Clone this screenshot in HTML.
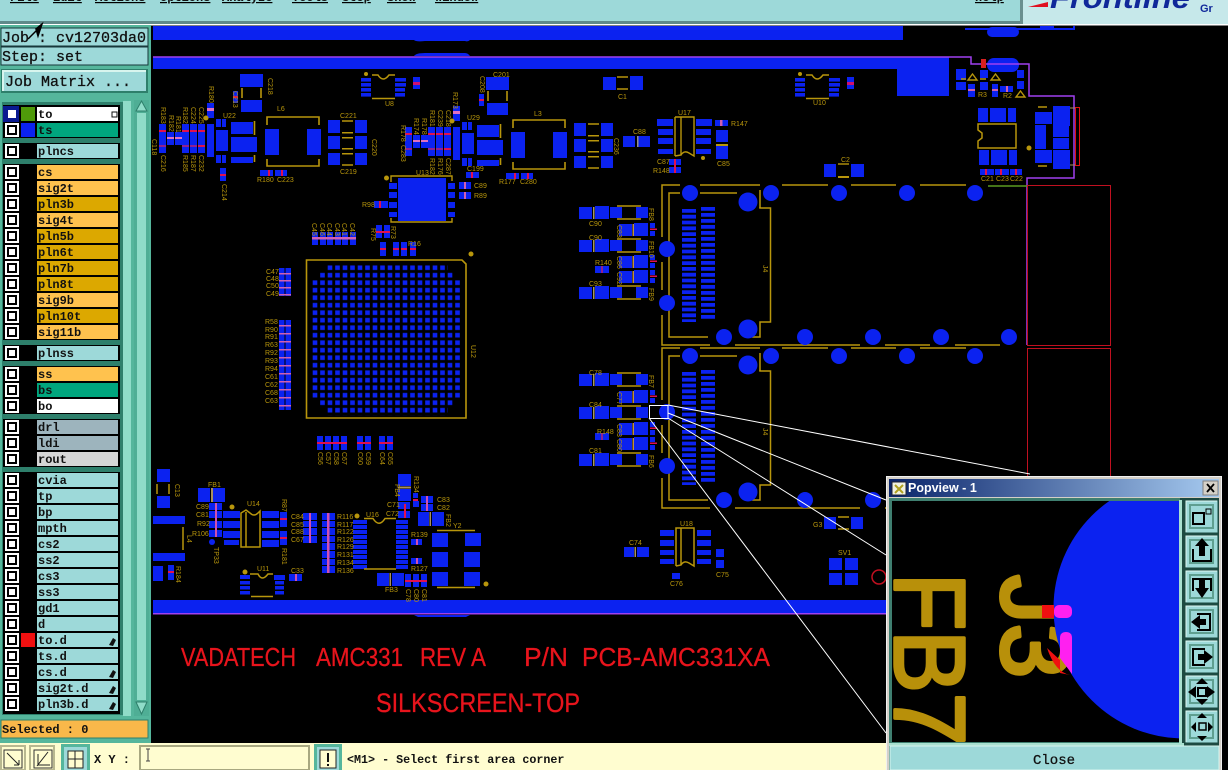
<!DOCTYPE html>
<html><head><meta charset="utf-8"><title>Popview</title>
<style>
html,body{margin:0;padding:0;background:#000;width:1228px;height:770px;overflow:hidden}
svg{display:block;position:absolute;left:0;top:0}
.m{font-family:"Liberation Mono","DejaVu Sans Mono",monospace;font-weight:bold;fill:#111}
.n{font-family:"Liberation Mono","DejaVu Sans Mono",monospace;font-weight:normal;fill:#111;stroke:#111;stroke-width:.3px}
.l{font-family:"Liberation Mono",monospace;font-weight:bold;font-size:12px;fill:#111}
.s{font-family:"Liberation Sans",sans-serif;font-size:7px;fill:#b8960c}
.r{font-family:"Liberation Sans",sans-serif;fill:#e8141c;stroke:#e8141c;stroke-width:.3px}
</style></head><body>
<svg width="1228" height="770" viewBox="0 0 1228 770" xmlns="http://www.w3.org/2000/svg">
<defs>
<g id="cb"><rect x="5" y="-7" width="14" height="14" fill="#fff"/><rect x="7" y="-5" width="10" height="10" fill="#000"/><rect x="9" y="-3" width="6" height="6" fill="#fff"/></g>
<pattern id="bga" x="312.5" y="265.2" width="7.5" height="7.5" patternUnits="userSpaceOnUse"><rect x="0.2" y="0.2" width="4.6" height="4.6" fill="#0b22f0"/></pattern>
<g id="reg">
 <g fill="#0b22f0">
 <rect x="159" y="124" width="7" height="29"/><rect x="167" y="132" width="7" height="13"/><rect x="175" y="132" width="7" height="13"/>
 <rect x="182" y="124" width="7" height="29"/><rect x="190" y="124" width="7" height="29"/><rect x="198" y="124" width="7" height="29"/>
 <rect x="207" y="103" width="7" height="15"/><rect x="207" y="124" width="7" height="33"/>
 <rect x="216" y="119" width="5" height="8"/><rect x="222" y="119" width="4" height="8"/><rect x="216" y="130" width="12" height="21"/><rect x="216" y="155" width="5" height="8"/><rect x="222" y="155" width="4" height="8"/>
 <rect x="231" y="122" width="22" height="12"/><rect x="231" y="137" width="26" height="15"/><rect x="231" y="157" width="22" height="6"/>
 <rect x="240" y="74" width="23" height="13"/><rect x="241" y="100" width="21" height="12"/><rect x="233" y="91" width="5" height="12"/>
 <rect x="265" y="129" width="14" height="26"/><rect x="307" y="129" width="14" height="26"/>
 <rect x="328" y="120" width="12" height="13"/><rect x="355" y="120" width="12" height="13"/><rect x="328" y="136" width="12" height="13"/><rect x="355" y="136" width="12" height="13"/><rect x="328" y="153" width="12" height="12"/><rect x="355" y="153" width="12" height="12"/>
 <rect x="260" y="170" width="13" height="6"/><rect x="275" y="170" width="12" height="6"/>
 </g>
 <g fill="#e01050"><rect x="159" y="130" width="7" height="2"/><rect x="182" y="130" width="7" height="2"/><rect x="190" y="130" width="7" height="2"/><rect x="198" y="130" width="7" height="2"/><rect x="233" y="96" width="5" height="2"/><rect x="268" y="170" width="2" height="6"/><rect x="281" y="170" width="2" height="6"/></g>
 <g fill="#e070c0"><rect x="167" y="137" width="7" height="2"/><rect x="175" y="137" width="7" height="2"/><rect x="207" y="108" width="7" height="3"/></g>
 <g fill="#902090"><rect x="159" y="145" width="7" height="2"/><rect x="182" y="145" width="7" height="2"/><rect x="190" y="145" width="7" height="2"/></g>
 <rect x="198" y="145" width="7" height="2" fill="#e01050"/>
 <g fill="none" stroke="#b8960c" stroke-width="1.6">
 <path d="M267 125V117H319V125M267 159V166H319V159"/><path d="M242 88V98M261 88V98"/><path d="M254.500 121V135M254.500 155V162"/>
 <path d="M342 121H353M342 165H353"/></g>
 <g fill="#b8960c"><rect x="342" y="132" width="11" height="1.500"/><rect x="342" y="137" width="11" height="1.500"/><rect x="342" y="148" width="11" height="1.500"/><rect x="342" y="153" width="11" height="1.500"/></g>
 <circle cx="206" cy="118" r="2.500" fill="#b8960c"/>
</g>
<g id="u8">
 <g fill="#0b22f0"><rect x="361" y="78" width="10" height="3.600"/><rect x="361" y="83" width="10" height="3.600"/><rect x="361" y="88" width="10" height="3.600"/><rect x="361" y="93" width="10" height="3.600"/><rect x="395" y="78" width="11" height="3.600"/><rect x="395" y="83" width="11" height="3.600"/><rect x="395" y="88" width="10" height="3.600"/><rect x="395" y="93" width="10" height="3.600"/><rect x="413" y="77" width="7" height="12"/></g>
 <rect x="413" y="82" width="7" height="3" fill="#d01070"/>
 <circle cx="366" cy="74" r="2" fill="#b8960c"/>
 <path d="M372 75H378Q383 83 389 75H395M372 98.500H395" fill="none" stroke="#b8960c" stroke-width="1.500"/>
</g>
<g id="j4">
 <g fill="none" stroke="#b8960c" stroke-width="1.500">
 <path d="M669 205V193H680M700 193H737M760 207V208H770.500V322H760V337H752M669 193V337H708M662 237V185H680M700 185H760M782 185H828M851 185H896M920 185H966"/>
 <path d="M662 262V290M662 315V345H710M735 345H860M885 345H930M955 345H1000"/>
 <path d="M760 190V208"/>
 </g>
 <g fill="#0b22f0">
 <circle cx="690" cy="193" r="8"/><circle cx="771" cy="193" r="8"/><circle cx="839" cy="193" r="8"/><circle cx="907" cy="193" r="8"/><circle cx="975" cy="193" r="8"/><circle cx="748" cy="202" r="9.500"/>
 <circle cx="667" cy="249" r="8"/><circle cx="667" cy="303" r="8"/><circle cx="724" cy="337" r="8"/><circle cx="748" cy="329" r="9.500"/><circle cx="805" cy="337" r="8"/><circle cx="873" cy="337" r="8"/><circle cx="941" cy="337" r="8"/><circle cx="1009" cy="337" r="8"/>
 </g>
 <path d="M689 209V322" stroke="#0b22f0" stroke-width="14" stroke-dasharray="3.800 2"/>
 <path d="M708 207V320" stroke="#0b22f0" stroke-width="14" stroke-dasharray="3.800 2.200"/>
 <text class="s" transform="translate(763,265) rotate(90)">J4</text>
</g>
<g id="r1">
 <g fill="#0b22f0"><rect x="579" y="0" width="13" height="12"/><rect x="595" y="-1" width="14" height="13"/><rect x="610" y="0" width="12" height="11"/><rect x="636" y="0" width="12" height="11"/></g>
 <rect x="593" y="0" width="1.500" height="12" fill="#a89a60"/>
 <path d="M617 -1H641M617 12H641" stroke="#b8960c" stroke-width="1.500"/>
</g>
<g id="r2">
 <g fill="#0b22f0"><rect x="619" y="0" width="13" height="12"/><rect x="634" y="-1" width="14" height="13"/><rect x="650" y="-1" width="5" height="5"/><rect x="650" y="7" width="5" height="5"/></g>
 <rect x="632.500" y="0" width="1.500" height="12" fill="#c09040"/>
 <rect x="650" y="4.500" width="7" height="1.500" fill="#e01050"/>
</g>
<g id="pass">
 <use href="#r1" y="207"/><use href="#r2" y="224"/><use href="#r1" y="240"/><use href="#r2" y="256"/><use href="#r2" y="271"/><use href="#r1" y="287"/>
 <rect x="595" y="266" width="14" height="7" fill="#0b22f0"/><rect x="601" y="266" width="2" height="7" fill="#902090"/>
</g>
<linearGradient id="tb" x1="0" x2="1" y1="0" y2="0"><stop offset="0" stop-color="#0a246a"/><stop offset="1" stop-color="#a6caf0"/></linearGradient>
</defs>

<rect width="1228" height="770" fill="#000"/>

<!-- top bar -->
<rect width="1228" height="22" fill="#9dd9d9"/>
<rect y="21" width="1022" height="3" fill="#5f8a8a"/>
<rect y="24" width="1228" height="1.500" fill="#fff"/>
<rect x="1020" y="0" width="3" height="24" fill="#6a8f8f"/>
<rect x="1023" y="0" width="205" height="24" fill="#c6e8ea"/>
<g style="text-decoration:underline">
<text class="m" font-size="12" x="10" y="1">File</text><text class="m" font-size="12" x="53" y="1">Edit</text><text class="m" font-size="12" x="95" y="1">Actions</text><text class="m" font-size="12" x="160" y="1">Options</text><text class="m" font-size="12" x="222" y="1">Analyze</text><text class="m" font-size="12" x="292" y="1">Tools</text><text class="m" font-size="12" x="342" y="1">Step</text><text class="m" font-size="12" x="387" y="1">Show</text><text class="m" font-size="12" x="435" y="1">Window</text><text class="m" font-size="12" x="975" y="1">Help</text>
</g>
<text x="1050" y="8" font-family="Liberation Sans,sans-serif" font-weight="bold" font-style="italic" font-size="30" fill="#10289a" textLength="140" lengthAdjust="spacingAndGlyphs">Frontline</text>
<path d="M1028 7L1048 2V7Z" fill="#e01020"/>
<text x="1200" y="12" font-family="Liberation Sans,sans-serif" font-weight="bold" font-size="11" fill="#10289a">Gr</text>

<!-- left panel -->
<rect x="0" y="25" width="151" height="718" fill="#55b69c"/>
<rect x="1" y="28" width="147" height="18" fill="#9dd9d9" stroke="#17383a"/>
<rect x="1" y="47" width="147" height="18" fill="#9dd9d9" stroke="#17383a"/>
<text class="n" x="2" y="42" font-size="15">Job : cv12703da0</text>
<text class="n" x="2" y="61" font-size="15">Step: set</text>
<path d="M36 29L42 24L38 36Z M28 39L40 27" fill="#000" stroke="#000" stroke-width="1.500"/>
<rect x="2" y="70" width="145" height="22" fill="#9dd9d9" stroke="#2e7f6b" stroke-width="2"/>
<path d="M3 91V71H146" fill="none" stroke="#d8f5ee" stroke-width="2"/>
<text class="n" x="5" y="86" font-size="15">Job Matrix ...</text>

<rect x="2" y="102" width="121" height="613" fill="#2e7f6b"/>
<rect x="123" y="101" width="8" height="615" fill="#8fdcc8"/>
<rect x="134" y="100" width="15" height="616" fill="#4fae95"/>
<rect x="137" y="113" width="9" height="587" fill="#8fdcc8"/>
<path d="M136 111L141.500 101L147 111Z" fill="#8fdcc8" stroke="#2e7f6b"/>
<path d="M136 702L141.500 714L147 702Z" fill="#8fdcc8" stroke="#2e7f6b"/>
<g fill="#000">
<rect x="3" y="105" width="117" height="33"/><rect x="3" y="143" width="117" height="16"/><rect x="3" y="164" width="117" height="176"/><rect x="3" y="345" width="117" height="16"/><rect x="3" y="366" width="117" height="48"/><rect x="3" y="419" width="117" height="48"/><rect x="3" y="472" width="117" height="242"/>
</g>
<!-- layer name cells -->
<g>
<rect x="37" y="107" width="81" height="14" fill="#fff"/><rect x="37" y="123" width="81" height="14" fill="#00a67e"/>
<rect x="37" y="144" width="81" height="14" fill="#9dd9d9"/>
<rect x="37" y="165" width="81" height="14" fill="#ffc24e"/><rect x="37" y="181" width="81" height="14" fill="#ffc24e"/><rect x="37" y="197" width="81" height="14" fill="#dca800"/><rect x="37" y="213" width="81" height="14" fill="#ffc24e"/><rect x="37" y="229" width="81" height="14" fill="#dca800"/><rect x="37" y="245" width="81" height="14" fill="#dca800"/><rect x="37" y="261" width="81" height="14" fill="#dca800"/><rect x="37" y="277" width="81" height="14" fill="#dca800"/><rect x="37" y="293" width="81" height="14" fill="#ffc24e"/><rect x="37" y="309" width="81" height="14" fill="#dca800"/><rect x="37" y="325" width="81" height="14" fill="#ffc24e"/>
<rect x="37" y="346" width="81" height="14" fill="#9dd9d9"/>
<rect x="37" y="367" width="81" height="14" fill="#ffc24e"/><rect x="37" y="383" width="81" height="14" fill="#00a67e"/><rect x="37" y="399" width="81" height="14" fill="#fff"/>
<rect x="37" y="420" width="81" height="14" fill="#9db4bd"/><rect x="37" y="436" width="81" height="14" fill="#9db4bd"/><rect x="37" y="452" width="81" height="14" fill="#d6d6d6"/>
<g fill="#9dd9d9"><rect x="37" y="473" width="81" height="14"/><rect x="37" y="489" width="81" height="14"/><rect x="37" y="505" width="81" height="14"/><rect x="37" y="521" width="81" height="14"/><rect x="37" y="537" width="81" height="14"/><rect x="37" y="553" width="81" height="14"/><rect x="37" y="569" width="81" height="14"/><rect x="37" y="585" width="81" height="14"/><rect x="37" y="601" width="81" height="14"/><rect x="37" y="617" width="81" height="14"/><rect x="37" y="633" width="81" height="14"/><rect x="37" y="649" width="81" height="14"/><rect x="37" y="665" width="81" height="14"/><rect x="37" y="681" width="81" height="14"/><rect x="37" y="697" width="81" height="14"/></g>
</g>
<!-- active swatches -->
<rect x="3" y="106" width="16" height="16" fill="#0a1a90"/><rect x="8" y="110" width="8" height="8" fill="#fff"/>
<rect x="21" y="107" width="14" height="14" fill="#4f9a0a"/>
<rect x="21" y="123" width="14" height="14" fill="#0b22f0"/>
<rect x="21" y="633" width="14" height="14" fill="#f01010"/>
<!-- checkboxes -->
<use href="#cb" y="130"/><use href="#cb" y="151"/><use href="#cb" y="172"/><use href="#cb" y="188"/><use href="#cb" y="204"/><use href="#cb" y="220"/><use href="#cb" y="236"/><use href="#cb" y="252"/><use href="#cb" y="268"/><use href="#cb" y="284"/><use href="#cb" y="300"/><use href="#cb" y="316"/><use href="#cb" y="332"/><use href="#cb" y="353"/><use href="#cb" y="374"/><use href="#cb" y="390"/><use href="#cb" y="406"/><use href="#cb" y="427"/><use href="#cb" y="443"/><use href="#cb" y="459"/><use href="#cb" y="480"/><use href="#cb" y="496"/><use href="#cb" y="512"/><use href="#cb" y="528"/><use href="#cb" y="544"/><use href="#cb" y="560"/><use href="#cb" y="576"/><use href="#cb" y="592"/><use href="#cb" y="608"/><use href="#cb" y="624"/><use href="#cb" y="640"/><use href="#cb" y="656"/><use href="#cb" y="672"/><use href="#cb" y="688"/><use href="#cb" y="704"/>
<!-- layer names -->
<g>
<text class="l" x="38" y="118">to</text><text class="l" x="38" y="134">ts</text><text class="l" x="38" y="155">plncs</text><text class="l" x="38" y="176">cs</text><text class="l" x="38" y="192">sig2t</text><text class="l" x="38" y="208">pln3b</text><text class="l" x="38" y="224">sig4t</text><text class="l" x="38" y="240">pln5b</text><text class="l" x="38" y="256">pln6t</text><text class="l" x="38" y="272">pln7b</text><text class="l" x="38" y="288">pln8t</text><text class="l" x="38" y="304">sig9b</text><text class="l" x="38" y="320">pln10t</text><text class="l" x="38" y="336">sig11b</text><text class="l" x="38" y="357">plnss</text><text class="l" x="38" y="378">ss</text><text class="l" x="38" y="394">bs</text><text class="l" x="38" y="410">bo</text><text class="l" x="38" y="431">drl</text><text class="l" x="38" y="447">ldi</text><text class="l" x="38" y="463">rout</text><text class="l" x="38" y="484">cvia</text><text class="l" x="38" y="500">tp</text><text class="l" x="38" y="516">bp</text><text class="l" x="38" y="532">mpth</text><text class="l" x="38" y="548">cs2</text><text class="l" x="38" y="564">ss2</text><text class="l" x="38" y="580">cs3</text><text class="l" x="38" y="596">ss3</text><text class="l" x="38" y="612">gd1</text><text class="l" x="38" y="628">d</text><text class="l" x="38" y="644">to.d</text><text class="l" x="38" y="660">ts.d</text><text class="l" x="38" y="676">cs.d</text><text class="l" x="38" y="692">sig2t.d</text><text class="l" x="38" y="708">pln3b.d</text>
</g>
<g fill="#111"><path d="M109 645L113 638L116 640L113 646Z"/><path d="M109 677L113 670L116 672L113 678Z"/><path d="M109 693L113 686L116 688L113 694Z"/><path d="M109 709L113 702L116 704L113 710Z"/></g>
<rect x="112" y="112" width="5" height="5" fill="none" stroke="#111"/>
<rect x="1" y="720" width="147" height="18" fill="#f9b84a" stroke="#2e7f6b"/>
<text class="l" x="2" y="733">Selected : 0</text>

<!-- PCB top bands -->
<rect x="153" y="26" width="750" height="14" fill="#0b22f0"/>
<rect x="153" y="57" width="744" height="12" fill="#0b22f0"/>
<rect x="897" y="57" width="52" height="39" fill="#0b22f0"/>
<path d="M414 40Q416 42 425 41H465Q468 42 470 40ZM414 56Q416 53 425 53H465Q468 53 470 56Z" fill="#0b22f0"/>
<path d="M965 29H1074V26" fill="none" stroke="#0b22f0" stroke-width="2"/>
<rect x="987" y="27" width="32" height="10" rx="5" fill="#0b22f0"/><rect x="1040" y="26" width="14" height="2" fill="#0b22f0"/>
<rect x="987" y="58" width="32" height="14" rx="7" fill="#0b22f0"/>
<path d="M153 57H971V64H1029V96H1074V178H1027V345" fill="none" stroke="#a040f0" stroke-width="1.500"/>
<rect x="1027.500" y="185.500" width="83" height="160" fill="none" stroke="#c01020"/>
<rect x="1027.500" y="348.500" width="83" height="140" fill="none" stroke="#c01020"/>
<path d="M988 186H1027" stroke="#5a9a20" stroke-width="1.500"/>

<!-- repeated top regions -->
<use href="#reg"/>
<use href="#reg" x="246" y="3"/>
<use href="#u8"/>
<use href="#u8" x="434"/>

<!-- misc pads -->
<g fill="#0b22f0">
 <rect x="220" y="168" width="6" height="13"/>
 <rect x="398" y="178" width="48" height="43"/>
 <rect x="389" y="183" width="8" height="6"/><rect x="389" y="192" width="8" height="6"/><rect x="389" y="202" width="8" height="6"/><rect x="389" y="212" width="8" height="5"/>
 <rect x="448" y="183" width="7" height="6"/><rect x="448" y="192" width="7" height="6"/><rect x="448" y="202" width="7" height="6"/><rect x="448" y="212" width="7" height="5"/>
 <rect x="374" y="201" width="14" height="7"/>
 <rect x="459" y="182" width="12" height="7"/><rect x="459" y="192" width="12" height="7"/>
 <rect x="466" y="172" width="13" height="6"/>
 <rect x="603" y="77" width="13" height="13"/><rect x="630" y="76" width="13" height="14"/>
 <rect x="657" y="119" width="16" height="7"/><rect x="658" y="129" width="15" height="6"/><rect x="658" y="138" width="15" height="6"/><rect x="658" y="149" width="15" height="5"/>
 <rect x="696" y="119" width="16" height="7"/><rect x="696" y="129" width="15" height="6"/><rect x="696" y="138" width="15" height="6"/><rect x="696" y="149" width="15" height="5"/>
 <rect x="715" y="120" width="13" height="6"/><rect x="716" y="130" width="12" height="12"/><rect x="716" y="146" width="12" height="13"/>
 <rect x="669" y="159" width="12" height="6"/><rect x="669" y="167" width="12" height="6"/>
 <rect x="623" y="136" width="12" height="11"/><rect x="638" y="136" width="12" height="11"/>
 <rect x="824" y="164" width="12" height="13"/><rect x="851" y="164" width="13" height="13"/>
 <rect x="956" y="69" width="10" height="11"/><rect x="956" y="82" width="10" height="8"/><rect x="980" y="70" width="8" height="8"/><rect x="980" y="82" width="8" height="8"/><rect x="968" y="84" width="7" height="13"/><rect x="992" y="84" width="6" height="13"/><rect x="1000" y="86" width="13" height="6"/><rect x="1017" y="70" width="7" height="8"/><rect x="1017" y="81" width="7" height="8"/>
 <rect x="978" y="108" width="10" height="14"/><rect x="990" y="108" width="16" height="14"/><rect x="1008" y="108" width="8" height="14"/>
 <rect x="979" y="150" width="10" height="15"/><rect x="991" y="150" width="16" height="15"/><rect x="1009" y="150" width="8" height="15"/>
 <rect x="980" y="169" width="14" height="6"/><rect x="995" y="169" width="14" height="6"/><rect x="1010" y="169" width="12" height="6"/>
 <rect x="1053" y="106" width="17" height="20"/><rect x="1035" y="112" width="17" height="12"/><rect x="1053" y="126" width="16" height="11"/><rect x="1053" y="138" width="16" height="11"/><rect x="1053" y="150" width="17" height="19"/><rect x="1035" y="150" width="17" height="13"/><rect x="1035" y="125" width="11" height="24"/>
 <rect x="312" y="232" width="6" height="13"/><rect x="320" y="232" width="6" height="13"/><rect x="327" y="232" width="6" height="13"/><rect x="335" y="232" width="6" height="13"/><rect x="342" y="232" width="6" height="13"/><rect x="350" y="232" width="6" height="13"/>
 <rect x="376" y="225" width="6" height="13"/><rect x="384" y="225" width="6" height="13"/>
 <rect x="380" y="242" width="6" height="14"/><rect x="393" y="242" width="6" height="14"/><rect x="401" y="242" width="6" height="14"/><rect x="410" y="242" width="6" height="14"/>
 <rect x="279" y="268" width="12" height="28"/><rect x="279" y="320" width="12" height="90"/>
</g>
<path d="M285 268V296M285 320V410" stroke="#000"/>
<g fill="#d060b0">
 <rect x="279" y="273" width="12" height="1.500"/><rect x="279" y="280" width="12" height="1.500"/><rect x="279" y="287" width="12" height="1.500"/><rect x="279" y="294" width="12" height="1.500"/>
 <rect x="279" y="325" width="12" height="1.500"/><rect x="279" y="333" width="12" height="1.500"/><rect x="279" y="341" width="12" height="1.500"/><rect x="279" y="349" width="12" height="1.500"/><rect x="279" y="357" width="12" height="1.500"/><rect x="279" y="365" width="12" height="1.500"/><rect x="279" y="373" width="12" height="1.500"/><rect x="279" y="381" width="12" height="1.500"/><rect x="279" y="389" width="12" height="1.500"/><rect x="279" y="397" width="12" height="1.500"/><rect x="279" y="405" width="12" height="1.500"/>
 <rect x="312" y="237" width="44" height="2.500"/>
 <rect x="464" y="182" width="2" height="7"/><rect x="464" y="192" width="2" height="7"/>
 <rect x="720" y="120" width="2.500" height="6"/>
 <rect x="968" y="89" width="7" height="2"/><rect x="992" y="89" width="6" height="2"/><rect x="1006" y="86" width="2" height="6"/>
</g>
<g fill="#e01050">
 <rect x="220" y="174" width="6" height="2"/><rect x="379" y="201" width="2" height="7"/><rect x="471" y="172" width="2" height="6"/>
 <rect x="376" y="231" width="14" height="2"/><rect x="380" y="248" width="6" height="2"/><rect x="393" y="248" width="6" height="2"/><rect x="401" y="248" width="6" height="2"/><rect x="410" y="248" width="6" height="2"/>
 <rect x="674" y="159" width="2" height="14"/><rect x="985" y="169" width="2" height="6"/><rect x="1000" y="169" width="2" height="6"/><rect x="1015" y="169" width="2" height="6"/>
</g>
<rect x="981" y="59" width="5" height="9" fill="#d82020"/>
<rect x="1075.500" y="107.500" width="4" height="58" fill="none" stroke="#e01010"/>
<path d="M1070 108H1075M1070 165H1075" stroke="#a89060"/>
<path d="M980 124H1016V148H978V141L982 138V133L978 130V124Z" fill="none" stroke="#b8960c" stroke-width="1.500"/>
<g fill="none" stroke="#b8960c" stroke-width="1.400">
 <path d="M391 182V176H452V181M391 218V222H452V218" />
 <path d="M617 77H628M617 89H628"/>
 <path d="M675 117H681V155L675 156M681 117H694V156L689 153Q684 150 681 155M675 117V156"/>
 <path d="M838 164H849"/><path d="M838 177H849" stroke-width="2"/>
 <path d="M306.500 260H462L466 264V418H306.500Z" stroke-width="1.600"/>
 <path d="M968 80H977L972.500 74ZM991 80H1000L995.500 74ZM1016 97H1025L1020.500 91Z"/>
 <path d="M961 79H966M980 79H986"/>
 <path d="M1038 107H1047M1038 166H1047"/>
</g>
<rect x="716" y="144" width="12" height="2" fill="#b8960c"/><rect x="637" y="136" width="1.500" height="11" fill="#909090"/>
<circle cx="386.500" cy="178" r="2.500" fill="#b8960c"/><circle cx="703" cy="158" r="2" fill="#b8960c"/><circle cx="1029" cy="148" r="2.500" fill="#b8960c"/><circle cx="471" cy="254" r="2.500" fill="#b8960c"/>

<!-- BGA -->
<rect x="312.500" y="265.200" width="150" height="150" fill="url(#bga)"/>
<rect x="312" y="265" width="15" height="7.500"/><rect x="312" y="272.500" width="7.500" height="7.500"/><rect x="448" y="265" width="15" height="7.500"/><rect x="455" y="272.500" width="8" height="7.500"/><rect x="312" y="407.500" width="15" height="8"/><rect x="312" y="400" width="7.500" height="7.500"/><rect x="448" y="407.500" width="15" height="8"/><rect x="455" y="400" width="8" height="7.500"/>

<!-- connectors -->
<use href="#j4"/>
<use href="#j4" y="163"/>
<use href="#pass"/>
<use href="#pass" y="167"/>

<!-- bottom-left group -->
<g fill="#0b22f0">
 <rect x="317" y="436" width="6" height="14"/><rect x="325" y="436" width="6" height="14"/><rect x="333" y="436" width="6" height="14"/><rect x="341" y="436" width="6" height="14"/><rect x="357" y="436" width="6" height="14"/><rect x="365" y="436" width="6" height="14"/><rect x="379" y="436" width="6" height="14"/><rect x="387" y="436" width="6" height="14"/>
 <rect x="157" y="469" width="13" height="13"/><rect x="157" y="496" width="13" height="12"/>
 <rect x="198" y="488" width="12" height="14"/><rect x="213" y="488" width="12" height="14"/>
 <rect x="153" y="516" width="32" height="8"/><rect x="153" y="553" width="32" height="8"/>
 <rect x="153" y="566" width="10" height="15"/><rect x="168" y="565" width="6" height="15"/>
 <rect x="209" y="503" width="13" height="7"/><rect x="209" y="511" width="13" height="7"/><rect x="209" y="521" width="13" height="7"/><rect x="209" y="530" width="13" height="7"/>
 <circle cx="212" cy="542" r="3"/>
 <rect x="223" y="511" width="17" height="7"/><rect x="223" y="521" width="17" height="7"/><rect x="223" y="531" width="17" height="7"/><rect x="224" y="540" width="15" height="5"/>
 <rect x="262" y="511" width="17" height="7"/><rect x="262" y="521" width="17" height="7"/><rect x="262" y="531" width="17" height="7"/><rect x="262" y="540" width="17" height="7"/>
 <rect x="280" y="512" width="7" height="15"/><rect x="280" y="531" width="7" height="14"/>
 <rect x="303" y="513" width="14" height="7"/><rect x="303" y="521" width="14" height="6"/><rect x="303" y="528" width="14" height="7"/><rect x="303" y="536" width="14" height="7"/>
 <rect x="322" y="513" width="13" height="7"/><rect x="322" y="521" width="13" height="6"/><rect x="322" y="528" width="13" height="7"/><rect x="322" y="536" width="13" height="6"/><rect x="322" y="543" width="13" height="7"/><rect x="322" y="551" width="13" height="7"/><rect x="322" y="559" width="13" height="6"/><rect x="322" y="566" width="13" height="7"/>
 <rect x="398" y="474" width="13" height="12"/><rect x="398" y="489" width="13" height="12"/><rect x="413" y="493" width="5" height="5"/><rect x="413" y="501" width="6" height="6"/>
 <rect x="421" y="496" width="12" height="7"/><rect x="421" y="504" width="12" height="7"/><rect x="398" y="502" width="12" height="7"/><rect x="398" y="511" width="12" height="7"/>
 <rect x="418" y="512" width="11" height="14"/><rect x="432" y="512" width="12" height="14"/>
 <rect x="432" y="533" width="16" height="14"/><rect x="465" y="533" width="16" height="13"/><rect x="432" y="552" width="16" height="15"/><rect x="464" y="552" width="16" height="15"/><rect x="432" y="572" width="16" height="14"/><rect x="464" y="572" width="16" height="14"/>
 <rect x="411" y="539" width="11" height="6"/><rect x="411" y="558" width="11" height="6"/>
 <rect x="405" y="574" width="6" height="13"/><rect x="413" y="574" width="6" height="13"/><rect x="421" y="574" width="6" height="13"/>
 <rect x="377" y="573" width="12" height="13"/><rect x="392" y="573" width="12" height="13"/>
 <rect x="289" y="574" width="13" height="7"/>
 <rect x="240" y="575" width="10" height="4"/><rect x="240" y="581" width="10" height="3.500"/><rect x="240" y="586" width="10" height="3.500"/><rect x="240" y="591" width="10" height="3.500"/>
 <rect x="274" y="575" width="11" height="5"/><rect x="275" y="581" width="9" height="3.500"/><rect x="275" y="586" width="9" height="3.500"/><rect x="275" y="591" width="9" height="3.500"/>
 <rect x="624" y="547" width="10" height="10"/><rect x="637" y="547" width="12" height="10"/>
 <rect x="660" y="530" width="14" height="6"/><rect x="660" y="540" width="14" height="6"/><rect x="660" y="550" width="14" height="5"/><rect x="660" y="559" width="14" height="5"/>
 <rect x="697" y="530" width="14" height="6"/><rect x="697" y="540" width="14" height="6"/><rect x="697" y="550" width="14" height="5"/><rect x="697" y="559" width="14" height="5"/>
 <rect x="716" y="549" width="8" height="8"/><rect x="716" y="560" width="8" height="8"/><rect x="672" y="573" width="8" height="6"/>
 <rect x="824" y="517" width="12" height="12"/><rect x="851" y="517" width="12" height="12"/>
 <rect x="829" y="558" width="13" height="12"/><rect x="845" y="558" width="13" height="12"/><rect x="829" y="573" width="13" height="12"/><rect x="845" y="573" width="13" height="12"/>
 <!-- U16 pads -->
 <rect x="353" y="520" width="14" height="4"/><rect x="353" y="525" width="14" height="4"/><rect x="353" y="530" width="14" height="4"/><rect x="353" y="535" width="14" height="4"/><rect x="353" y="540" width="14" height="4"/><rect x="353" y="545" width="14" height="4"/><rect x="353" y="550" width="14" height="4"/><rect x="353" y="555" width="14" height="4"/><rect x="353" y="560" width="14" height="4"/><rect x="353" y="565" width="14" height="4"/>
 <rect x="396" y="520" width="12" height="4"/><rect x="396" y="525" width="12" height="4"/><rect x="396" y="530" width="12" height="4"/><rect x="396" y="535" width="12" height="4"/><rect x="396" y="540" width="12" height="4"/><rect x="396" y="545" width="12" height="4"/><rect x="396" y="550" width="12" height="4"/><rect x="396" y="555" width="12" height="4"/><rect x="396" y="560" width="12" height="4"/><rect x="396" y="565" width="12" height="4"/>
</g>
<g fill="#e01050">
 <rect x="317" y="442" width="30" height="2"/><rect x="357" y="442" width="14" height="2"/><rect x="379" y="442" width="14" height="2"/>
 <rect x="168" y="571" width="6" height="2"/><rect x="280" y="518" width="7" height="2"/><rect x="280" y="537" width="7" height="2"/><rect x="405" y="580" width="22" height="2"/><rect x="413" y="499" width="5" height="2"/><rect x="404" y="504" width="2" height="14"/>
</g>
<g fill="#d050b0">
 <rect x="215" y="503" width="2" height="34"/><rect x="327" y="513" width="2.500" height="60"/><rect x="309" y="513" width="2" height="30"/><rect x="416" y="539" width="2" height="6"/><rect x="416" y="558" width="2" height="6"/><rect x="426" y="496" width="2" height="15"/><rect x="295" y="574" width="2" height="7"/>
</g>
<g fill="none" stroke="#b8960c" stroke-width="1.500">
 <path d="M157 484V494M169 484V494"/>
 <path d="M183 527V550"/>
 <path d="M241 547V513L246 510L250 513Q254 517 258 513L260 511V547ZM246 512V547"/>
 <path d="M364 518.500H373Q379 528 385 518.500H396M364 569H396"/>
 <path d="M437 530.500H475M437 587.500H475"/>
 <path d="M250 574H258Q262 582 268 574H273M251 596.500H273"/>
 <path d="M676 566V528H694V566L689 563Q684 560 681 565L676 566M681 528V565"/>
 <path d="M838 517H849M838 529H849"/>
 <circle cx="879" cy="577" r="7" stroke="#c01020"/>
</g>
<rect x="211" y="488" width="2" height="14" fill="#a89060"/><rect x="398" y="486.500" width="13" height="2" fill="#a89060"/><rect x="429.500" y="512" width="1.500" height="14" fill="#a89060"/><rect x="389.500" y="573" width="1.500" height="13" fill="#a89060"/><rect x="634.500" y="547" width="1.500" height="10" fill="#a89060"/>
<circle cx="232" cy="507" r="2.500" fill="#b8960c"/><circle cx="357" cy="516" r="2.500" fill="#b8960c"/><circle cx="486" cy="584" r="2.500" fill="#b8960c"/><circle cx="245" cy="572" r="2.500" fill="#b8960c"/>

<!-- bottom band -->
<rect x="153" y="600" width="733" height="13" fill="#0b22f0"/>
<rect x="153" y="613" width="733" height="1.500" fill="#a040f0"/>
<path d="M414 615H470L466 617H418Z" fill="#0b22f0"/>

<!-- small silkscreen labels -->
<g>
<text class="s" x="277" y="111">L6</text><text class="s" x="340" y="118">C221</text><text class="s" x="340" y="174">C219</text><text class="s" x="223" y="118">U22</text><text class="s" x="257" y="182">R180</text><text class="s" x="277" y="182">C223</text>
<text class="s" x="385" y="106">U8</text><text class="s" x="416" y="175">U13</text><text class="s" x="362" y="207">R98</text><text class="s" x="474" y="188">C89</text><text class="s" x="474" y="198">R89</text><text class="s" x="467" y="171">C199</text><text class="s" x="467" y="120">U29</text><text class="s" x="534" y="116">L3</text><text class="s" x="499" y="184">R177</text><text class="s" x="520" y="184">C280</text><text class="s" x="493" y="77">C201</text>
<text class="s" x="618" y="99">C1</text><text class="s" x="678" y="115">U17</text><text class="s" x="731" y="126">R147</text><text class="s" x="633" y="134">C88</text><text class="s" x="657" y="164">C87</text><text class="s" x="653" y="173">R148</text><text class="s" x="717" y="166">C85</text><text class="s" x="813" y="105">U10</text><text class="s" x="841" y="162">C2</text><text class="s" x="978" y="97">R3</text><text class="s" x="1003" y="98">R2</text><text class="s" x="981" y="181">C21</text><text class="s" x="996" y="181">C23</text><text class="s" x="1010" y="181">C22</text>
<text class="s" transform="translate(233,91) rotate(90)" >C213</text><text class="s" transform="translate(268,78) rotate(90)">C218</text><text class="s" transform="translate(209,86) rotate(90)">R180</text><text class="s" transform="translate(222,184) rotate(90)">C214</text><text class="s" transform="translate(372,139) rotate(90)">C220</text>
<text class="s" transform="translate(161,107) rotate(90)">R183</text><text class="s" transform="translate(169,115) rotate(90)">R182</text><text class="s" transform="translate(176,116) rotate(90)">R181</text><text class="s" transform="translate(183,107) rotate(90)">R182</text><text class="s" transform="translate(191,107) rotate(90)">C224</text><text class="s" transform="translate(199,107) rotate(90)">C225</text><text class="s" transform="translate(161,155) rotate(90)">C216</text><text class="s" transform="translate(183,155) rotate(90)">R185</text><text class="s" transform="translate(191,155) rotate(90)">R187</text><text class="s" transform="translate(199,155) rotate(90)">C232</text>
<text class="s" transform="translate(152,139) rotate(90)">C118</text><text class="s" transform="translate(453,92) rotate(90)">R173</text><text class="s" transform="translate(480,76) rotate(90)">C208</text><text class="s" transform="translate(414,118) rotate(90)">R174</text><text class="s" transform="translate(422,118) rotate(90)">R178</text><text class="s" transform="translate(430,110) rotate(90)">R181</text><text class="s" transform="translate(438,110) rotate(90)">C239</text><text class="s" transform="translate(446,110) rotate(90)">C218</text><text class="s" transform="translate(430,158) rotate(90)">R182</text><text class="s" transform="translate(438,158) rotate(90)">R176</text><text class="s" transform="translate(446,158) rotate(90)">C287</text><text class="s" transform="translate(401,125) rotate(90)">R178</text><text class="s" transform="translate(401,145) rotate(90)">C283</text>
<text class="s" transform="translate(614,138) rotate(90)">C236</text>
<text class="s" x="266" y="274">C47</text><text class="s" x="266" y="281">C48</text><text class="s" x="266" y="288">C50</text><text class="s" x="266" y="296">C49</text><text class="s" x="265" y="324">R58</text><text class="s" x="265" y="332">R90</text><text class="s" x="265" y="339">R91</text><text class="s" x="265" y="347">R63</text><text class="s" x="265" y="355">R92</text><text class="s" x="265" y="363">R93</text><text class="s" x="265" y="371">R94</text><text class="s" x="265" y="379">C61</text><text class="s" x="265" y="387">C62</text><text class="s" x="265" y="395">C68</text><text class="s" x="265" y="403">C63</text>
<text class="s" transform="translate(312,223) rotate(90)">C45</text><text class="s" transform="translate(320,223) rotate(90)">C46</text><text class="s" transform="translate(327,223) rotate(90)">C44</text><text class="s" transform="translate(335,223) rotate(90)">C43</text><text class="s" transform="translate(342,223) rotate(90)">C41</text><text class="s" transform="translate(350,223) rotate(90)">C42</text>
<text class="s" transform="translate(371,228) rotate(90)">R75</text><text class="s" transform="translate(391,226) rotate(90)">R73</text><text class="s" x="408" y="246">R16</text><text class="s" transform="translate(471,345) rotate(90)">U12</text>
<text class="s" transform="translate(318,452) rotate(90)">C56</text><text class="s" transform="translate(326,452) rotate(90)">C57</text><text class="s" transform="translate(334,452) rotate(90)">C58</text><text class="s" transform="translate(342,452) rotate(90)">C67</text><text class="s" transform="translate(358,452) rotate(90)">C60</text><text class="s" transform="translate(366,452) rotate(90)">C59</text><text class="s" transform="translate(380,452) rotate(90)">C64</text><text class="s" transform="translate(388,452) rotate(90)">C65</text>
<text class="s" x="208" y="487">FB1</text><text class="s" transform="translate(175,484) rotate(90)">C13</text><text class="s" x="196" y="509">C89</text><text class="s" x="196" y="517">C81</text><text class="s" x="197" y="526">R92</text><text class="s" x="192" y="536">R106</text><text class="s" transform="translate(214,547) rotate(90)">TP33</text><text class="s" transform="translate(187,535) rotate(90)">L4</text><text class="s" x="247" y="506">U14</text><text class="s" transform="translate(282,499) rotate(90)">R87</text><text class="s" transform="translate(282,548) rotate(90)">R181</text><text class="s" transform="translate(176,566) rotate(90)">R184</text>
<text class="s" x="291" y="519">C84</text><text class="s" x="291" y="527">C85</text><text class="s" x="291" y="534">C88</text><text class="s" x="291" y="542">C67</text>
<text class="s" x="337" y="519">R116</text><text class="s" x="337" y="527">R117</text><text class="s" x="337" y="534">R122</text><text class="s" x="337" y="542">R126</text><text class="s" x="337" y="549">R129</text><text class="s" x="337" y="557">R131</text><text class="s" x="337" y="565">R134</text><text class="s" x="337" y="573">R136</text>
<text class="s" x="366" y="517">U16</text><text class="s" x="387" y="507">C71</text><text class="s" x="386" y="516">C72</text><text class="s" transform="translate(395,484) rotate(90)">FB4</text><text class="s" transform="translate(414,476) rotate(90)">R134</text><text class="s" x="437" y="502">C83</text><text class="s" x="437" y="510">C82</text><text class="s" transform="translate(446,514) rotate(90)">FB2</text><text class="s" x="453" y="528">Y2</text><text class="s" x="411" y="537">R139</text><text class="s" x="411" y="571">R127</text><text class="s" x="385" y="592">FB3</text><text class="s" x="291" y="573">C33</text><text class="s" x="257" y="571">U11</text>
<text class="s" transform="translate(406,589) rotate(90)">C78</text><text class="s" transform="translate(414,589) rotate(90)">C80</text><text class="s" transform="translate(422,589) rotate(90)">C81</text>
<text class="s" x="629" y="545">C74</text><text class="s" x="680" y="526">U18</text><text class="s" x="716" y="577">C75</text><text class="s" x="670" y="586">C76</text><text class="s" x="813" y="527">G3</text><text class="s" x="838" y="555">SV1</text>
<text class="s" x="589" y="226">C90</text><text class="s" x="589" y="240">C90</text><text class="s" x="595" y="265">R140</text><text class="s" x="589" y="286">C93</text><text class="s" x="589" y="375">C78</text><text class="s" x="589" y="407">C84</text><text class="s" x="597" y="434">R148</text><text class="s" x="589" y="453">C81</text>
<text class="s" transform="translate(649,208) rotate(90)">FB8</text><text class="s" transform="translate(649,241) rotate(90)">FB10</text><text class="s" transform="translate(649,288) rotate(90)">FB9</text><text class="s" transform="translate(649,375) rotate(90)">FB7</text><text class="s" transform="translate(649,455) rotate(90)">FB6</text>
<text class="s" transform="translate(617,225) rotate(90)">C83</text><text class="s" transform="translate(617,256) rotate(90)">C86</text><text class="s" transform="translate(617,272) rotate(90)">C92</text><text class="s" transform="translate(617,392) rotate(90)">C77</text><text class="s" transform="translate(617,424) rotate(90)">C83</text><text class="s" transform="translate(617,439) rotate(90)">C80</text>
</g>

<!-- PCB title text -->
<text class="r" x="181" y="666" font-size="26" textLength="115" lengthAdjust="spacingAndGlyphs">VADATECH</text>
<text class="r" x="316" y="666" font-size="26" textLength="87" lengthAdjust="spacingAndGlyphs">AMC331</text>
<text class="r" x="420" y="666" font-size="26" textLength="66" lengthAdjust="spacingAndGlyphs">REV A</text>
<text class="r" x="524" y="666" font-size="26" textLength="44" lengthAdjust="spacingAndGlyphs">P/N</text>
<text class="r" x="582" y="666" font-size="26" textLength="188" lengthAdjust="spacingAndGlyphs">PCB-AMC331XA</text>
<text class="r" x="376" y="712" font-size="27" textLength="204" lengthAdjust="spacingAndGlyphs">SILKSCREEN-TOP</text>

<!-- magnifier lines -->
<rect x="649.500" y="405.500" width="18.500" height="13" fill="none" stroke="#fff"/>
<path d="M668 405L1030 474M668 413L886 500M668 418L886 555M649 418L886 733" fill="none" stroke="#fff" stroke-width="1"/>

<!-- bottom toolbar -->
<rect x="0" y="743" width="886" height="27" fill="#fffdd0"/>
<rect x="1" y="746" width="24" height="24" fill="#fffdd0" stroke="#b8b890" stroke-width="2"/>
<rect x="4" y="750" width="18" height="18" fill="none" stroke="#333"/><path d="M7 753L19 765M19 765V760M19 765H14" stroke="#222" fill="none"/>
<rect x="30" y="746" width="24" height="24" fill="#fffdd0" stroke="#b8b890" stroke-width="2"/>
<rect x="34" y="750" width="18" height="18" fill="none" stroke="#333"/><path d="M37 766L48 752M38 754V765H50" stroke="#222" fill="none"/>
<rect x="61" y="744" width="29" height="26" fill="#55b69c"/><rect x="64" y="747" width="23" height="23" fill="#9dd9d9"/>
<rect x="68" y="751" width="15" height="17" fill="#fffdd0" stroke="#222"/><path d="M68 759H83M75 751V768" stroke="#222"/>
<text class="m" x="94" y="763" font-size="12">X Y :</text>
<rect x="140" y="746" width="169" height="24" fill="#fffdd0" stroke="#a8a880" stroke-width="2"/>
<path d="M148 749V761M146 749H150M146 761H150" stroke="#444"/>
<rect x="314" y="744" width="28" height="26" fill="#55b69c"/><rect x="317" y="747" width="22" height="23" fill="#9dd9d9"/>
<rect x="320" y="750" width="16" height="18" fill="#fffdd0" stroke="#222"/><path d="M328 753V762M328 764V766" stroke="#111" stroke-width="2"/>
<text class="m" x="347" y="763" font-size="11.700">&lt;M1&gt; - Select first area corner</text>

<!-- Popview window -->
<rect x="886" y="476" width="336" height="294" fill="#d4d0c8"/>
<rect x="886.500" y="476.500" width="335" height="294" fill="none" stroke="#f0f0f0"/>
<rect x="889" y="479" width="330" height="18" fill="url(#tb)"/>
<rect x="892" y="482" width="14" height="13" fill="#f0f0e0" stroke="#223"/><path d="M895 485L903 493M903 485L895 493" stroke="#b0a020" stroke-width="2"/>
<text x="908" y="492" font-family="Liberation Sans,sans-serif" font-weight="bold" font-size="12.500" fill="#fff">Popview - 1</text>
<rect x="1203" y="481" width="15" height="14" fill="#d4d0c8" stroke="#808080"/><path d="M1207 484L1214 492M1214 484L1207 492" stroke="#000" stroke-width="1.800"/>
<rect x="889" y="498" width="330" height="272" fill="#3f7f70"/>
<rect x="1180" y="498" width="39" height="248" fill="#1d4a42"/>
<rect x="889" y="743" width="295" height="3" fill="#a8e0d0"/>
<rect x="1179" y="500" width="3" height="246" fill="#a8e0d0"/>
<svg x="892" y="501" width="287" height="241" viewBox="892 501 287 241">
<rect x="892" y="501" width="287" height="241" fill="#000"/>
<g font-family="Liberation Sans,sans-serif" fill="#b8900a" stroke="#b8900a" stroke-linejoin="round">
<text transform="translate(895,573) rotate(90)" font-size="100" stroke-width="3.500" textLength="172" lengthAdjust="spacingAndGlyphs">FB7</text>
<text transform="translate(1002,575) rotate(90)" font-size="96" stroke-width="4" textLength="103" lengthAdjust="spacingAndGlyphs">J3</text>
</g>
<circle cx="1184" cy="608" r="130.500" fill="#0b22f0"/>
<rect x="1042" y="605" width="12" height="13" fill="#f01010"/>
<rect x="1054" y="605" width="18" height="13" rx="5" fill="#ff20f0"/>
<path d="M1047 648L1060 660V673L1070 675Q1055 672 1047 648Z" fill="#f01010"/>
<path d="M1060 638Q1060 632 1066 632Q1072 632 1072 638V674L1060 658Z" fill="#ff20f0"/>
</svg>
<!-- popview buttons -->
<g fill="#9dd9d9" stroke="#1d4a42"><rect x="1185" y="500" width="33" height="33"/><rect x="1185" y="535" width="33" height="33"/><rect x="1185" y="570" width="33" height="33"/><rect x="1185" y="605" width="33" height="33"/><rect x="1185" y="640" width="33" height="33"/><rect x="1185" y="675" width="33" height="33"/><rect x="1185" y="710" width="33" height="33"/></g>
<g fill="none" stroke="#e0f7f2"><path d="M1186 532V501H1217M1186 567V536H1217M1186 602V571H1217M1186 637V606H1217M1186 672V641H1217M1186 707V676H1217M1186 742V711H1217"/></g>
<g fill="none" stroke="#5f9f90" stroke-width="2"><rect x="1190" y="505" width="23" height="23"/><rect x="1190" y="540" width="23" height="23"/><rect x="1190" y="575" width="23" height="23"/><rect x="1190" y="610" width="23" height="23"/><rect x="1190" y="645" width="23" height="23"/><rect x="1190" y="680" width="23" height="23"/><rect x="1190" y="715" width="23" height="23"/></g>
<g fill="none" stroke="#000" stroke-width="2">
<rect x="1193" y="513" width="11" height="11"/><rect x="1206" y="509" width="5" height="5" stroke-width="1"/>
<path d="M1193 549V561H1211V549"/>
<path d="M1193 591V579H1211V591"/>
<path d="M1197 614H1210V630H1197"/>
<path d="M1205 649H1193V665H1205"/>
</g>
<g fill="#000">
<path d="M1202 538L1209 546H1205V556H1199V546H1195Z"/>
<path d="M1202 598L1209 588H1205V580H1199V588H1195Z"/>
<path d="M1191 622L1200 615V619H1206V625H1200V629Z"/>
<path d="M1213 657L1204 650V654H1198V660H1204V664Z"/>
<path d="M1202 678L1208 684H1196ZM1202 705L1208 699H1196ZM1188 692L1196 686V698ZM1215 692L1207 686V698Z"/>
<path d="M1202 713L1207 718H1197ZM1202 741L1207 736H1197ZM1191 727L1196 722V732ZM1213 727L1208 722V732Z"/>
</g>
<rect x="1198" y="688" width="8" height="8" fill="none" stroke="#000" stroke-width="2"/><rect x="1199" y="723" width="7" height="7" fill="none" stroke="#000" stroke-width="1.500"/>
<!-- Close -->
<rect x="890" y="746" width="329" height="24" fill="#9dd9d9" stroke="#d8f5ee"/>
<text class="n" x="1054" y="764" font-size="14" text-anchor="middle">Close</text>
</svg>
</body></html>
